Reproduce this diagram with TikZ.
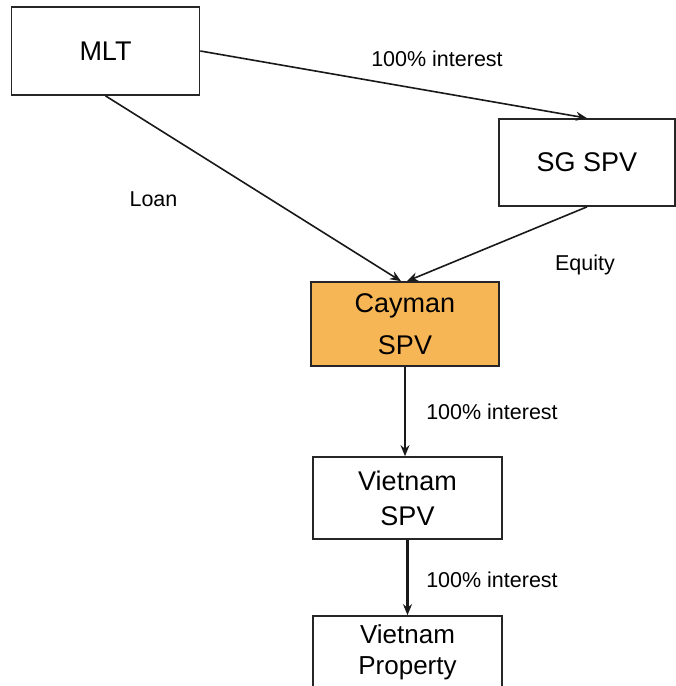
\documentclass[tikz,border=0pt]{standalone}
\usepackage{fontspec}
\setmainfont{Liberation Sans}
\usetikzlibrary{arrows.meta}
\definecolor{cayfill}{RGB}{247,182,85}
\tikzset{
  box/.style={draw=black!85, line width=1.7pt, rectangle, align=center, inner sep=2pt},
  arr/.style={draw=black!90, line width=1.6pt, -{Stealth[length=11pt,width=9pt]}},
  lbl/.style={font=\fontsize{21.5}{25}\selectfont, anchor=base, inner sep=0pt},
}
\begin{document}
\begin{tikzpicture}[x=1pt,y=-1pt]
\clip (0,0) rectangle (676,686);
\fill[white] (0,0) rectangle (676,686);
\node[box, minimum width=188pt, minimum height=88pt, font=\fontsize{27}{32}\selectfont] (mlt) at (105.5,51) {MLT};
\node[box, minimum width=176pt, minimum height=87pt, font=\fontsize{27}{32}\selectfont] (sg) at (587,162.5) {SG SPV};
\node[box, fill=cayfill, minimum width=188pt, minimum height=84pt, font=\fontsize{27}{42}\selectfont] (cay) at (405,324) {Cayman\\SPV};
\node[box, minimum width=189pt, minimum height=82pt, font=\fontsize{27}{35}\selectfont] (vspv) at (407.5,498) {Vietnam\\SPV};
\node[box, minimum width=189pt, minimum height=72pt, font=\fontsize{26}{31}\selectfont] (prop) at (407.5,652) {Vietnam\\Property};

\draw[arr] (mlt.east) -- (sg.north);
\draw[arr] (mlt.south) -- ([xshift=-4pt]cay.north);
\draw[arr] (sg.south) -- ([xshift=2pt]cay.north);
\draw[arr] (cay.south) -- (cay.south |- vspv.north);
\draw[arr, line width=2.4pt] (vspv.south) -- (vspv.south |- prop.north);

\node[lbl] (l1) at (437,66) {100\% interest};
\node[lbl] (l2) at (153.5,206) {Loan};
\node[lbl] (l3) at (585,270) {Equity};
\node[lbl] (l4) at (492,419) {100\% interest};
\node[lbl] (l5) at (492,587) {100\% interest};
\end{tikzpicture}
\end{document}
